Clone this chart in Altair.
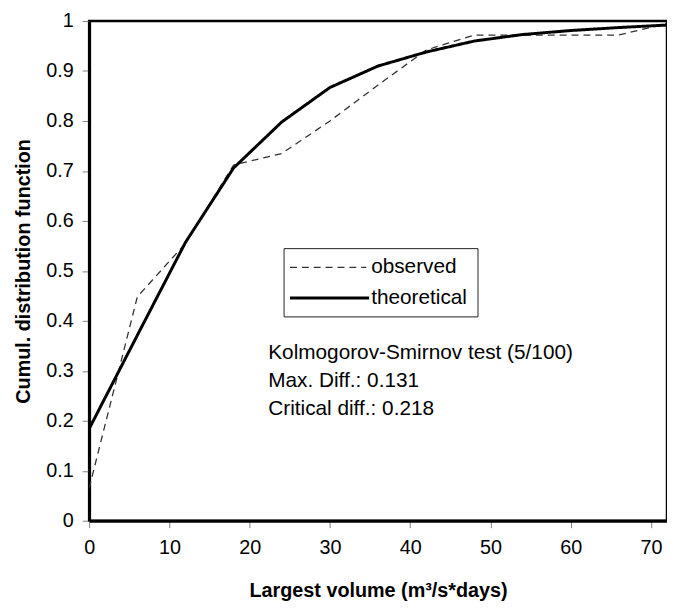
import altair as alt
import pandas as pd

# ---- data ----
volume = [0, 6, 12, 18, 24, 30, 36, 42, 48, 54, 60, 66, 72]
observed = [0.065, 0.448, 0.555, 0.712, 0.735, 0.80, 0.872, 0.942, 0.972, 0.972, 0.972, 0.972, 0.995]
theoretical = [0.184, 0.371, 0.557, 0.706, 0.798, 0.867, 0.910, 0.938, 0.960, 0.973, 0.981, 0.987, 0.992]
series_names = ["observed", "theoretical"]
x_ticks = [0, 10, 20, 30, 40, 50, 60, 70]
y_ticks = [0, 0.1, 0.2, 0.3, 0.4, 0.5, 0.6, 0.7, 0.8, 0.9, 1.0]
annotation = ["Kolmogorov-Smirnov test (5/100)", "Max. Diff.: 0.131", "Critical diff.: 0.218"]

rows = []
for name, vals in zip(series_names, [observed, theoretical]):
    for xv, yv in zip(volume, vals):
        rows.append({"volume": xv, "cdf": yv, "series": name})
df = pd.DataFrame(rows)

FONT = "Liberation Sans"
DASHES = {"observed": [7, 5], "theoretical": [1, 0]}
COLORS = {"observed": "#333333", "theoretical": "#000000"}
WIDTHS = {"observed": 1.3, "theoretical": 3}

lines = alt.Chart(df).mark_line(clip=True).encode(
    x=alt.X("volume:Q",
            scale=alt.Scale(domain=[0, 72], nice=False, zero=False),
            axis=alt.Axis(values=x_ticks, title="Largest volume (m³/s*days)", format="d")),
    y=alt.Y("cdf:Q",
            scale=alt.Scale(domain=[0, 1], nice=False),
            axis=alt.Axis(values=y_ticks, title="Cumul. distribution function", format=".1~f")),
    strokeDash=alt.StrokeDash("series:N",
        scale=alt.Scale(domain=series_names, range=[DASHES[s] for s in series_names]),
        legend=None),
    color=alt.Color("series:N",
        scale=alt.Scale(domain=series_names, range=[COLORS[s] for s in series_names]),
        legend=None),
    strokeWidth=alt.StrokeWidth("series:N",
        scale=alt.Scale(domain=series_names, range=[WIDTHS[s] for s in series_names]),
        legend=None),
)

one = pd.DataFrame({"k": [0]})

# ---- legend box (drawn by hand so it matches the reference) ----
legend_box = alt.Chart(one).mark_rect(
    fill="white", stroke="#222222", strokeWidth=1
).encode(x=alt.value(197), x2=alt.value(393), y=alt.value(230), y2=alt.value(299))

legend_layers = [legend_box]
row_y = {"observed": 249, "theoretical": 280}
line_end = {"observed": 280, "theoretical": 283}
for s in series_names:
    legend_layers.append(
        alt.Chart(one).mark_rule(
            strokeDash=DASHES[s], color=COLORS[s], strokeWidth=WIDTHS[s]
        ).encode(x=alt.value(203), x2=alt.value(line_end[s]), y=alt.value(row_y[s]))
    )
    legend_layers.append(
        alt.Chart(one).mark_text(
            align="left", baseline="middle", fontSize=21, font=FONT, color="black"
        ).encode(x=alt.value(285), y=alt.value(row_y[s]), text=alt.value(s))
    )

text = alt.Chart(one).mark_text(
    align="left", baseline="alphabetic", fontSize=21, font=FONT,
    lineHeight=28, color="black"
).encode(
    x=alt.value(181), y=alt.value(342), text=alt.value(annotation)
)

chart = alt.layer(lines, *legend_layers, text).properties(
    width=584, height=505,
    autosize=alt.AutoSizeParams(type="none"),
    padding={"left": 82, "top": 10, "right": 0, "bottom": 84},
).configure_view(
    stroke="black", strokeWidth=2.5
).configure_axis(
    grid=False, domainColor="black", domainWidth=3,
    tickColor="#808080", tickWidth=1, tickSize=7,
    labelFont=FONT, labelFontSize=20, labelColor="black", labelFlush=False,
    titleFont=FONT, titleFontSize=20, titleFontWeight="bold", titleColor="black",
).configure_axisX(
    labelPadding=10, titlePadding=24,
).configure_axisY(
    labelPadding=9, titlePadding=12,
)

chart.save("out.html", embed_options={"renderer": "svg", "actions": False})
